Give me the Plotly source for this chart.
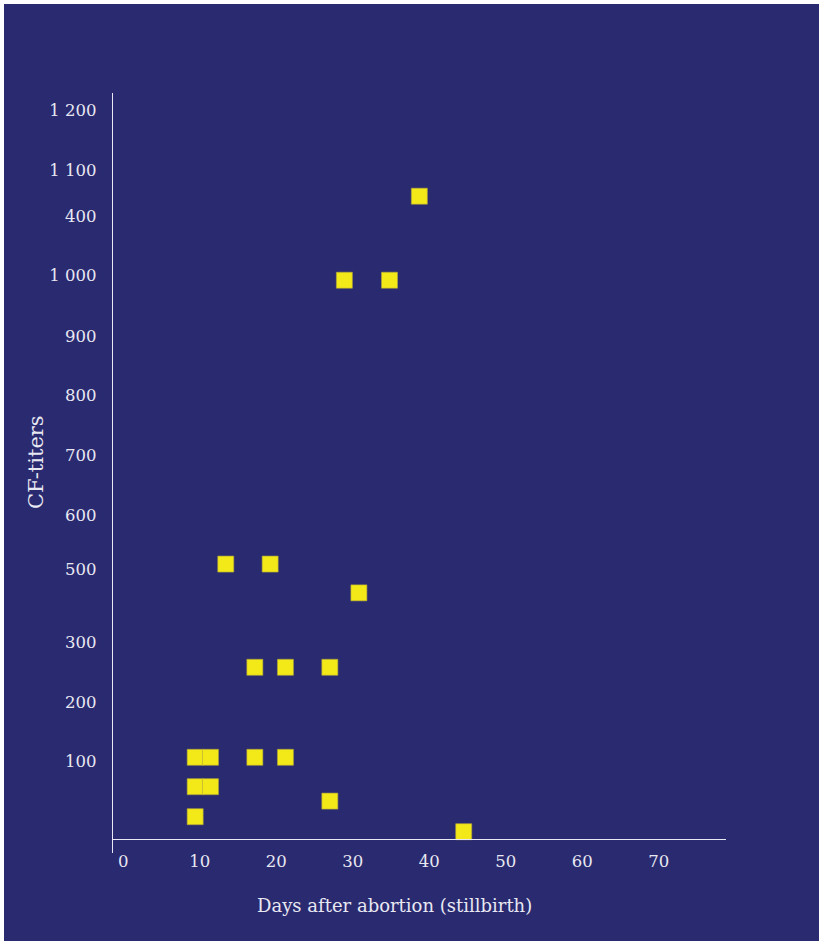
import plotly.graph_objects as go

# Days after abortion (x) and CF-titer readings (y, in axis units)
days = [38.7, 28.9, 34.8, 13.4, 19.2, 30.8, 17.2, 21.2, 27.0,
        9.4, 11.4, 17.2, 21.2, 9.4, 11.4, 27.0, 9.4, 44.5]
titers = [1042, 902, 902, 429, 429, 381, 257, 257, 257,
          107, 107, 107, 107, 58, 58, 34, 8, -17]

# Y-axis labels and where they sit on the titer axis
ytick_text = ["100", "200", "300", "500", "600", "700", "800", "900",
              "1 000", "400", "1 100", "1 200"]
ytick_pos = [100, 199, 298, 420, 510, 610, 710, 809, 910, 1009, 1086, 1185]

xtick_vals = [0, 10, 20, 30, 40, 50, 60, 70]

NAVY = "#2a2a70"
PALE = "#e8e8f2"
FONT = "DejaVu Serif"

fig = go.Figure()
fig.add_trace(go.Scatter(
    x=days, y=titers, mode="markers",
    marker=dict(symbol="square", size=16, color="#f3e818",
                line=dict(color="#b0a83a", width=0.6)),
    hoverinfo="x+y", showlegend=False,
))

fig.update_layout(
    width=819, height=941,
    margin=dict(l=113, r=93, t=93, b=88),
    paper_bgcolor="white",
    plot_bgcolor=NAVY,
    font=dict(family=FONT, size=16, color=PALE),
    xaxis=dict(
        range=[-1.34, 78.78], tickvals=xtick_vals,
        showgrid=False, zeroline=False,
        showline=True, linecolor=PALE, linewidth=1.3,
        anchor="free", position=0.018,
        ticks="", ticklabelstandoff=7,
        tickfont=dict(size=16.5),
    ),
    yaxis=dict(
        range=[-52.5, 1214], tickvals=ytick_pos, ticktext=ytick_text,
        showgrid=False, zeroline=False,
        showline=True, linecolor=PALE, linewidth=1.3,
        ticks="", ticklabelstandoff=12,
        tickfont=dict(size=16.5),
    ),
    shapes=[dict(
        type="rect", xref="paper", yref="paper", layer="below",
        x0=(4 - 113) / 613, x1=1.3, y0=-0.3, y1=(853 - 4) / 760,
        fillcolor=NAVY, line=dict(width=0),
    )],
    annotations=[
        dict(text="Days after abortion (stillbirth)", xref="paper", yref="paper",
             x=(394 - 113) / 613, y=(853 - 905) / 760, showarrow=False,
             xanchor="center", yanchor="middle", font=dict(size=18)),
        dict(text="CF-titers", xref="paper", yref="paper",
             x=(36 - 113) / 613, y=(853 - 462) / 760, showarrow=False,
             textangle=-90, xanchor="center", yanchor="middle",
             font=dict(size=21)),
    ],
)

fig.write_html("out.html")
